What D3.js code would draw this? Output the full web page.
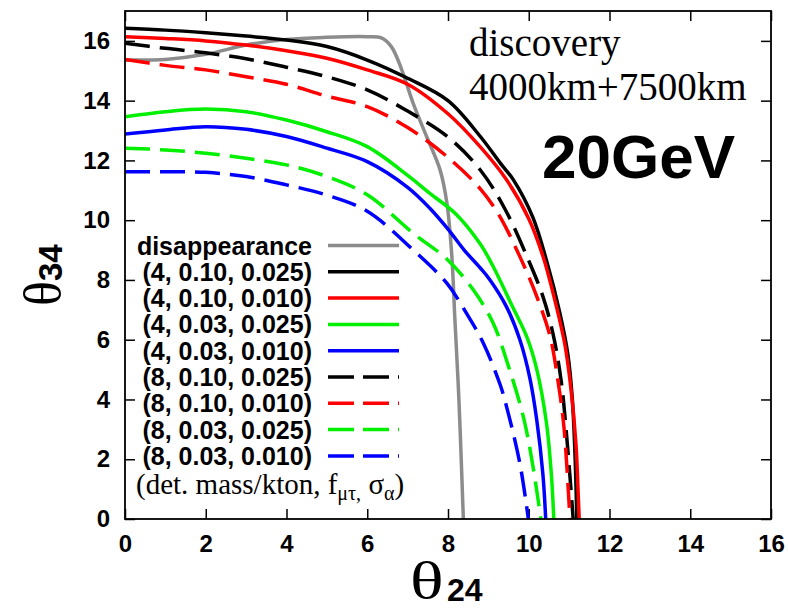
<!DOCTYPE html>
<html>
<head>
<meta charset="utf-8">
<script src="https://cdn.jsdelivr.net/npm/d3@7"></script>
<style>
  body { margin: 0; background: #fff; }
</style>
</head>
<body>
<div class="canvas"></div>
<script>
//DATA (theta24, theta34) pairs
var xTicks = [0, 2, 4, 6, 8, 10, 12, 14, 16];
var yTicks = [0, 2, 4, 6, 8, 10, 12, 14, 16];

var disappearance = [[0,15.36],[1,15.38],[2,15.55],[3,15.86],[4,16.05],[5,16.12],[6,16.14],[6.35,16.1],[6.6,15.8],[6.85,15.05],[7.14,13.9],[7.47,12.8],[7.8,11.7],[7.97,10.6],[8.09,8.9],[8.17,6.7],[8.25,4.6],[8.3,3.0],[8.38,0]];
var m4_010_025 = [[0,16.42],[1,16.36],[2,16.27],[3,16.16],[4,16.03],[5,15.81],[6,15.36],[7,14.75],[8,14.0],[8.8,12.8],[9.3,11.9],[9.62,11.35],[10.1,10.1],[10.45,8.6],[10.77,6.9],[10.97,5.5],[11.08,4],[11.15,2],[11.19,0]];
var m4_010_010 = [[0,16.14],[1,16.08],[2,16.0],[3,15.86],[4,15.67],[5,15.42],[6,15.03],[7,14.55],[8,13.56],[8.8,12.45],[9.45,11.35],[10.0,10.05],[10.35,8.8],[10.65,7.3],[10.9,5.8],[11.05,4.3],[11.17,2.5],[11.22,1.0],[11.25,0]];
var m4_003_025 = [[0,13.46],[1,13.63],[2,13.72],[3,13.63],[4,13.35],[5,12.96],[6,12.46],[7,11.5],[7.55,10.9],[8.2,10.2],[8.8,9.2],[9.1,8.5],[9.6,7.1],[9.95,6.1],[10.2,5.0],[10.44,3.2],[10.56,1.5],[10.62,0]];
var m4_003_010 = [[0,12.88],[1,13.02],[2,13.13],[3,13.04],[4,12.8],[5,12.41],[6,11.96],[7,11.1],[7.55,10.4],[8,9.7],[8.4,9.0],[8.8,8.4],[9.04,8.0],[9.45,7.1],[9.78,6.0],[10.03,4.7],[10.2,3.3],[10.35,1.5],[10.42,0]];
var m8_010_025 = [[0,15.92],[1,15.75],[2,15.6],[3,15.4],[4,15.12],[5,14.8],[6,14.36],[7,13.65],[8,12.78],[8.8,11.68],[9.4,10.4],[9.95,8.8],[10.35,7.45],[10.6,6.2],[10.8,4.65],[10.95,2.6],[11.1,0]];
var m8_010_010 = [[0,15.38],[1,15.18],[2,15.03],[3,14.8],[4,14.55],[5,14.15],[6,13.8],[7,13.1],[8,12.1],[8.8,11.05],[9.25,10.2],[9.78,8.78],[10.2,7.44],[10.53,6.1],[10.72,4.65],[10.87,3.1],[11.02,0]];
var m8_003_025 = [[0,12.41],[1,12.35],[2,12.24],[3,12.07],[4,11.85],[5,11.46],[6,10.85],[7.14,9.56],[7.97,8.7],[8.63,7.66],[9.12,6.55],[9.5,5.1],[9.87,3.4],[10.1,1.8],[10.3,0]];
var m8_003_010 = [[0,11.62],[1,11.62],[2,11.6],[3,11.46],[4,11.18],[5,10.84],[6,10.3],[7.14,9.0],[7.97,7.89],[8.46,6.88],[8.87,5.9],[9.29,4.5],[9.45,3.76],[9.78,1.86],[9.99,0]];

var labels = ['disappearance', '(4, 0.10, 0.025)', '(4, 0.10, 0.010)', '(4, 0.03, 0.025)', '(4, 0.03, 0.010)',
              '(8, 0.10, 0.025)', '(8, 0.10, 0.010)', '(8, 0.03, 0.025)', '(8, 0.03, 0.010)'];
var series = [disappearance, m4_010_025, m4_010_010, m4_003_025, m4_003_010,
              m8_010_025, m8_010_010, m8_003_025, m8_003_010];

//STYLES
var colors = ['#8c8c8c', '#000000', '#ff0000', '#00f000', '#0000ff', '#000000', '#ff0000', '#00f000', '#0000ff'];
var dashed = [false, false, false, false, false, true, true, true, true];

//VIZ DIMENSIONS
var w = 788, h = 608;
var margin = { left: 125, top: 11, right: 17, bottom: 89 };
var tickFont = 'Liberation Sans, Arial, sans-serif';
var serifFont = 'Liberation Serif, Times New Roman, serif';

var svg = d3.select('.canvas').append('svg')
    .attr('width', w)
    .attr('height', h);

var x = d3.scaleLinear().domain([0, 16]).range([margin.left, w - margin.right]);
var y = d3.scaleLinear().domain([0, 17]).range([h - margin.bottom, margin.top]);

svg.append('defs').append('clipPath').attr('id', 'plotclip')
  .append('rect')
    .attr('x', x(0)).attr('y', y(17))
    .attr('width', x(16) - x(0)).attr('height', y(0) - y(17));

//AXES - inward ticks on all four sides
function styleAxis(g) {
    g.select('.domain').remove();
    g.selectAll('.tick line').attr('stroke', '#000').attr('stroke-width', 1.5);
    g.selectAll('.tick text')
        .attr('font-family', tickFont)
        .attr('font-size', 24)
        .attr('font-weight', 'bold')
        .attr('fill', '#000');
}

svg.append('g')
    .attr('transform', 'translate(0,' + y(0) + ')')
    .call(d3.axisBottom(x).tickValues(xTicks).tickSizeInner(-10).tickSizeOuter(0).tickPadding(16))
    .call(styleAxis);

svg.append('g')
    .attr('transform', 'translate(0,' + y(17) + ')')
    .call(d3.axisTop(x).tickValues(xTicks).tickSizeInner(-10).tickSizeOuter(0).tickFormat(''))
    .call(styleAxis);

svg.append('g')
    .attr('transform', 'translate(' + x(0) + ',0)')
    .call(d3.axisLeft(y).tickValues(yTicks).tickSizeInner(-10).tickSizeOuter(0).tickPadding(15))
    .call(styleAxis);

svg.append('g')
    .attr('transform', 'translate(' + x(16) + ',0)')
    .call(d3.axisRight(y).tickValues(yTicks).tickSizeInner(-10).tickSizeOuter(0).tickFormat(''))
    .call(styleAxis);

//CURVES
var line = d3.line()
    .x(d => x(d[0]))
    .y(d => y(d[1]))
    .curve(d3.curveCatmullRom.alpha(0.5));

svg.append('g')
    .attr('clip-path', 'url(#plotclip)')
  .selectAll('path')
  .data(series)
  .enter().append('path')
    .attr('d', line)
    .attr('fill', 'none')
    .attr('stroke', (d, i) => colors[i])
    .attr('stroke-width', 3.5)
    .attr('stroke-dasharray', (d, i) => dashed[i] ? '25,10' : null);

//FRAME
svg.append('rect')
    .attr('x', x(0)).attr('y', y(17))
    .attr('width', x(16) - x(0)).attr('height', y(0) - y(17))
    .attr('fill', 'none')
    .attr('stroke', '#000')
    .attr('stroke-width', 1.8);

//LEGEND
var legend = svg.append('g');
var rowY = i => 245.5 + i * 26.3;
legend.selectAll('text.lab')
  .data(labels)
  .enter().append('text')
    .attr('class', 'lab')
    .attr('x', 312)
    .attr('y', (d, i) => rowY(i) + 9)
    .attr('text-anchor', 'end')
    .attr('font-family', tickFont)
    .attr('font-size', 25)
    .attr('font-weight', 'bold')
    .text(d => d);

legend.selectAll('line')
  .data(labels)
  .enter().append('line')
    .attr('x1', 328).attr('x2', 399)
    .attr('y1', (d, i) => rowY(i)).attr('y2', (d, i) => rowY(i))
    .attr('stroke', (d, i) => colors[i])
    .attr('stroke-width', 3.5)
    .attr('stroke-dasharray', (d, i) => dashed[i] ? '26,9,26,9,2,50' : null);

var note = legend.append('text')
    .attr('x', 136)
    .attr('y', 494)
    .attr('font-family', serifFont)
    .attr('font-size', 29);
note.append('tspan').text('(det. mass/kton, f');
note.append('tspan').attr('font-size', 20).attr('dy', 6).text('\u03bc\u03c4,');
note.append('tspan').attr('dy', -6).text(' \u03c3');
note.append('tspan').attr('font-size', 20).attr('dy', 6).text('\u03b1');
note.append('tspan').attr('dy', -6).text(')');

//ANNOTATIONS
svg.append('text')
    .attr('x', 469).attr('y', 56)
    .attr('font-family', serifFont)
    .attr('font-size', 39)
    .text('discovery');

svg.append('text')
    .attr('x', 469).attr('y', 100)
    .attr('font-family', serifFont)
    .attr('font-size', 39)
    .text('4000km+7500km');

svg.append('text')
    .attr('x', 542).attr('y', 178)
    .attr('font-family', tickFont)
    .attr('font-size', 62)
    .attr('font-weight', 'bold')
    .text('20GeV');

//AXIS TITLES
svg.append('text')
    .attr('transform', 'translate(410,598) scale(1.35,1)')
    .attr('font-family', serifFont)
    .attr('font-size', 52)
    .text('\u03b8');

svg.append('text')
    .attr('x', 447).attr('y', 601)
    .attr('font-family', tickFont)
    .attr('font-size', 32)
    .attr('font-weight', 'bold')
    .text('24');

var ylab = svg.append('text')
    .attr('transform', 'translate(60,306) rotate(-90)');
ylab.append('tspan')
    .attr('font-family', serifFont)
    .attr('font-size', 52)
    .text('\u03b8');
ylab.append('tspan')
    .attr('font-family', tickFont)
    .attr('font-size', 33)
    .attr('font-weight', 'bold')
    .attr('dy', 2)
    .text('34');
</script>
</body>
</html>
